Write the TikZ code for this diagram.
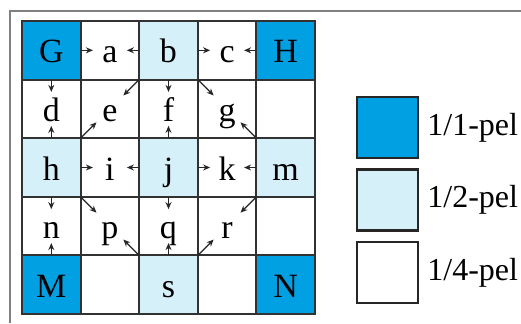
\documentclass[tikz,border=0pt]{standalone}
\usepackage{fontspec}
\setmainfont{Liberation Serif}
\usetikzlibrary{arrows.meta, positioning}
\usepackage{xcolor}
\definecolor{fullpel}{RGB}{0,160,226}
\definecolor{halfpel}{RGB}{214,240,250}
\definecolor{gridline}{RGB}{50,50,50}

\begin{document}
\begin{tikzpicture}[node distance=0pt,
  cell/.style={rectangle, draw=gridline, line width=1pt, fill=#1, outer sep=0pt, inner sep=0pt, minimum size=29.3pt, text height=14pt, text depth=1.5pt, font=\fontsize{17pt}{20pt}\selectfont},
  cell/.default=white,
  full/.style={cell=fullpel},
  half/.style={cell=halfpel},
  quarter/.style={cell=white},
  keybox/.style={rectangle, draw=black!85, line width=1.2pt, fill=#1, outer sep=0pt, minimum width=30.5pt, minimum height=30.5pt},
  keytext/.style={inner sep=0pt, font=\fontsize{16pt}{19pt}\selectfont},
  sub/.style={-{Stealth[length=3.5pt, width=3pt]}, black!85, line width=0.6pt, shorten >=8.5pt},
  diag/.style={sub, shorten >=9.5pt}]
  \useasboundingbox (0,0) rectangle (260.5pt,-161.5pt);
  \draw[gray, line width=0.6pt] (5pt,-161.5pt) |- (260.5pt,-5.5pt);
  % first column
  \node[full] (pG) at (25.65pt,-25.15pt) {G};
  \node[quarter, below=of pG] (pd) {d};
  \node[half, below=of pd] (ph) {h};
  \node[quarter, below=of ph] (pn) {n};
  \node[full, below=of pn] (pM) {M};
  % row 1
  \node[quarter, right=of pG] (pa) {a};
  \node[half, right=of pa] (pb) {b};
  \node[quarter, right=of pb] (pc) {c};
  \node[full, right=of pc] (pH) {H};
  % row 2
  \node[quarter, right=of pd] (pe) {e};
  \node[quarter, right=of pe] (pf) {f};
  \node[quarter, right=of pf] (pg) {g};
  \node[quarter, right=of pg] (w1) {};
  % row 3
  \node[quarter, right=of ph] (pi) {i};
  \node[half, right=of pi] (pj) {j};
  \node[quarter, right=of pj] (pk) {k};
  \node[half, right=of pk] (pm) {m};
  % row 4
  \node[quarter, right=of pn] (pp) {p};
  \node[quarter, right=of pp] (pq) {q};
  \node[quarter, right=of pq] (pr) {r};
  \node[quarter, right=of pr] (w2) {};
  % row 5
  \node[quarter, right=of pM] (w3) {};
  \node[half, right=of w3] (ps) {s};
  \node[quarter, right=of ps] (w4) {};
  \node[full, right=of w4] (pN) {N};
  \draw[gridline, line width=1.3pt] (pG.north west) rectangle (pN.south east);
  % sub-pel interpolation
  \draw[sub] (pG.east) -- (pa.center);
  \draw[sub] (pb.west) -- (pa.center);
  \draw[sub] (pb.east) -- (pc.center);
  \draw[sub] (pH.west) -- (pc.center);
  \draw[sub] (pG.south) -- (pd.center);
  \draw[sub] (ph.north) -- (pd.center);
  \draw[diag] (pb.south west) -- (pe.center);
  \draw[diag] (ph.north east) -- (pe.center);
  \draw[sub] (pb.south) -- (pf.center);
  \draw[sub] (pj.north) -- (pf.center);
  \draw[diag] (pb.south east) -- (pg.center);
  \draw[diag] (pm.north west) -- (pg.center);
  \draw[sub] (ph.east) -- (pi.center);
  \draw[sub] (pj.west) -- (pi.center);
  \draw[sub] (pj.east) -- (pk.center);
  \draw[sub] (pm.west) -- (pk.center);
  \draw[sub] (ph.south) -- (pn.center);
  \draw[sub] (pM.north) -- (pn.center);
  \draw[diag] (ph.south east) -- (pp.center);
  \draw[diag] (ps.north west) -- (pp.center);
  \draw[sub] (pj.south) -- (pq.center);
  \draw[sub] (ps.north) -- (pq.center);
  \draw[diag] (pm.south west) -- (pr.center);
  \draw[diag] (ps.north east) -- (pr.center);
  % legend
  \node[keybox=fullpel] (key1) at (193.75pt,-63.75pt) {};
  \node[keybox=halfpel, below=5.7pt of key1] (key2) {};
  \node[keybox=white, below=5.7pt of key2] (key3) {};
  \node[keytext, right=4.5pt of key1] (txt1) {1/1-pel};
  \node[keytext, right=4.5pt of key2] (txt2) {1/2-pel};
  \node[keytext, right=4.5pt of key3] (txt3) {1/4-pel};
\end{tikzpicture}
\end{document}
